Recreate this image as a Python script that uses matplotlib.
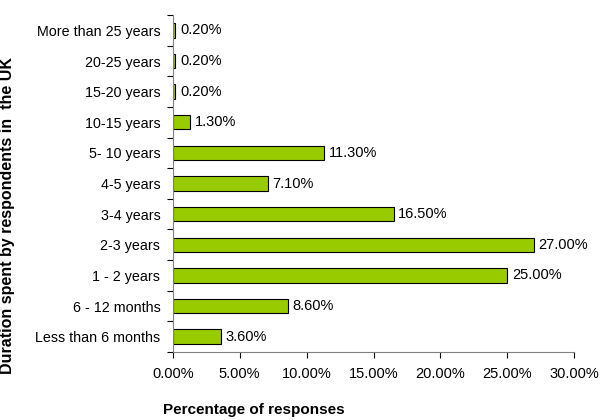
import matplotlib
matplotlib.use("Agg")
import matplotlib.pyplot as plt
import numpy as np

categories = ["Less than 6 months", "6 - 12 months", "1 - 2 years", "2-3 years", "3-4 years",
              "4-5 years", "5- 10 years", "10-15 years", "15-20 years", "20-25 years",
              "More than 25 years"]
values = [3.6, 8.6, 25.0, 27.0, 16.5, 7.1, 11.3, 1.3, 0.2, 0.2, 0.2]
xticks = [0, 5, 10, 15, 20, 25, 30]

plt.rcParams['font.family'] = ['Liberation Sans', 'DejaVu Sans']

fig = plt.figure(figsize=(6, 4.2), dpi=100)
ax = fig.add_axes([0.288, 0.162, 0.669, 0.802])
y = np.arange(len(categories))
ax.barh(y, values, height=0.47, color='#99CC00', edgecolor='black', linewidth=0.8)
for yi, v in zip(y, values):
    ax.text(v + 0.35, yi, f"{v:.2f}%", va='center', ha='left', fontsize=10.5)

ax.set_xlim(0, 30)
ax.set_ylim(-0.5, len(categories) - 0.5)
ax.set_xticks(xticks)
ax.set_xticklabels([f"{t:.2f}%" for t in xticks], fontsize=10.5)
ax.set_yticks(y)
ax.set_yticklabels(categories, fontsize=10.3)
ax.tick_params(axis='y', which='major', length=0, pad=9)
ax.set_yticks(np.arange(-0.5, len(categories)), minor=True)
ax.tick_params(axis='y', which='minor', length=4, width=0.8, direction='out')
ax.tick_params(axis='x', which='major', length=4, width=0.8, direction='out', pad=7)
for s in ['top', 'right']:
    ax.spines[s].set_visible(False)
for s in ['left', 'bottom']:
    ax.spines[s].set_color('#808080')
    ax.spines[s].set_linewidth(0.8)

fig.text(163/600, 1 - 410/420, "Percentage of responses", fontsize=11, fontweight='bold', ha='left', va='center')
fig.text(8/600, 1 - 215/420, "Duration spent by respondents in  the UK", fontsize=11.5, fontweight='bold',
         rotation=90, ha='center', va='center')

fig.savefig("out.png", dpi=100)
